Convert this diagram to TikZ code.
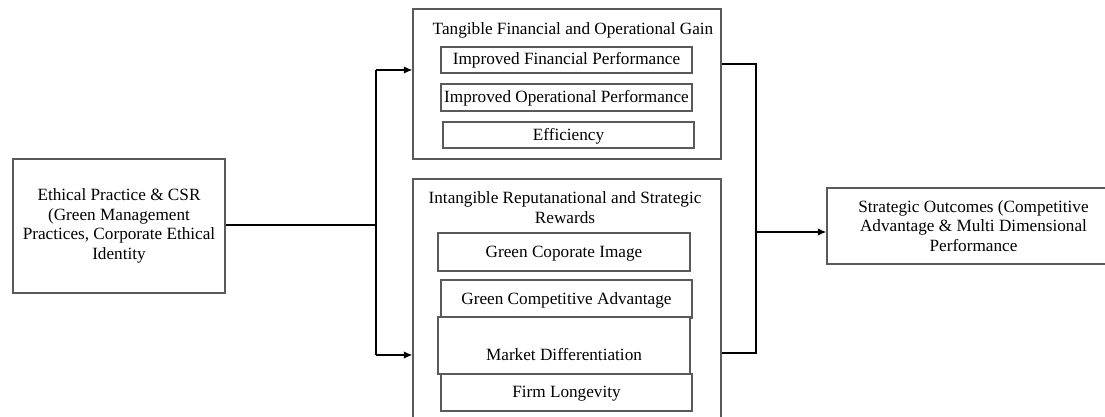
\documentclass[tikz,border=0pt]{standalone}
\usepackage{fontspec}
\setmainfont{Liberation Serif}
\usetikzlibrary{arrows.meta}
\definecolor{boxgray}{HTML}{5A5A5A}
\begin{document}
\begin{tikzpicture}[x=1pt,y=-1pt,
  lbl/.style={font=\fontsize{17.2}{19.5}\selectfont},
  frame/.style={lbl, draw=boxgray, line width=1.5pt, fill=white, inner sep=0pt},
  box/.style={frame, align=center},
  item/.style={frame, text height=12pt, text depth=2pt},
  title/.style={lbl, inner sep=0pt, align=center},
  conn/.style={draw=black, line width=1.1pt},
  arr/.style={conn, -{Latex[length=8.5pt,width=7.5pt]}}]
\useasboundingbox (0,0) rectangle (1105,417);
\clip (0,0) rectangle (1105,417);

% source
\node[box, minimum width=212pt, minimum height=134pt] (src) at (119,226)
  {Ethical Practice \& CSR\\(Green Management\\Practices, Corporate Ethical\\Identity};

% tangible gains group
\node[box, minimum width=308pt, minimum height=150pt] (tg) at (567,84) {};
\node[title] (tgt) at (573,30) {Tangible Financial and Operational Gain};
\node[item, minimum width=251pt, minimum height=26pt] (ifp) at (566.5,60) {Improved Financial Performance};
\node[item, minimum width=251pt, minimum height=27pt] (iop) at (566.5,97.5) {Improved Operational Performance};
\node[item, minimum width=251pt, minimum height=26pt] (eff) at (568.5,135) {Efficiency};

% intangible rewards group
\node[box, minimum width=308pt, minimum height=261pt] (ig) at (567,309.5) {};
\node[title] (igt) at (565,207.5) {Intangible Reputanational and Strategic\\Rewards};
\node[item, minimum width=252pt, minimum height=38pt] (gci) at (564,252) {Green Coporate Image};
\node[item, minimum width=251pt, minimum height=38pt] (gca) at (566.5,299) {Green Competitive Advantage};
\node[frame, minimum width=252pt, text height=44pt, text depth=13pt, anchor=north] (md) at (564,316) {Market Differentiation};
\node[item, minimum width=251pt, minimum height=37pt] (fl) at (566.5,392.5) {Firm Longevity};

% outcome
\node[box, minimum width=293pt, minimum height=76pt] (out) at (973.5,226)
  {Strategic Outcomes (Competitive\\Advantage \& Multi Dimensional\\Performance};

% split from source to both groups
\coordinate (jm) at (376,225);
\coordinate (ja) at (376,70);
\coordinate (jb) at (376,355);
\draw[conn] (src.east |- jm) -- (jm);
\draw[conn] (ja) -- (jb);
\draw[arr] (ja) -- (ja -| tg.west);
\draw[arr] (jb) -- (jb -| ig.west);

% merge from both groups to outcome
\coordinate (ra) at (756,64);
\coordinate (rb) at (756,353);
\coordinate (rm) at (756,232);
\draw[conn] (ra -| tg.east) -- (ra) -- (rb) -- (rb -| ig.east);
\draw[arr] (rm) -- (rm -| out.west);
\end{tikzpicture}
\end{document}
